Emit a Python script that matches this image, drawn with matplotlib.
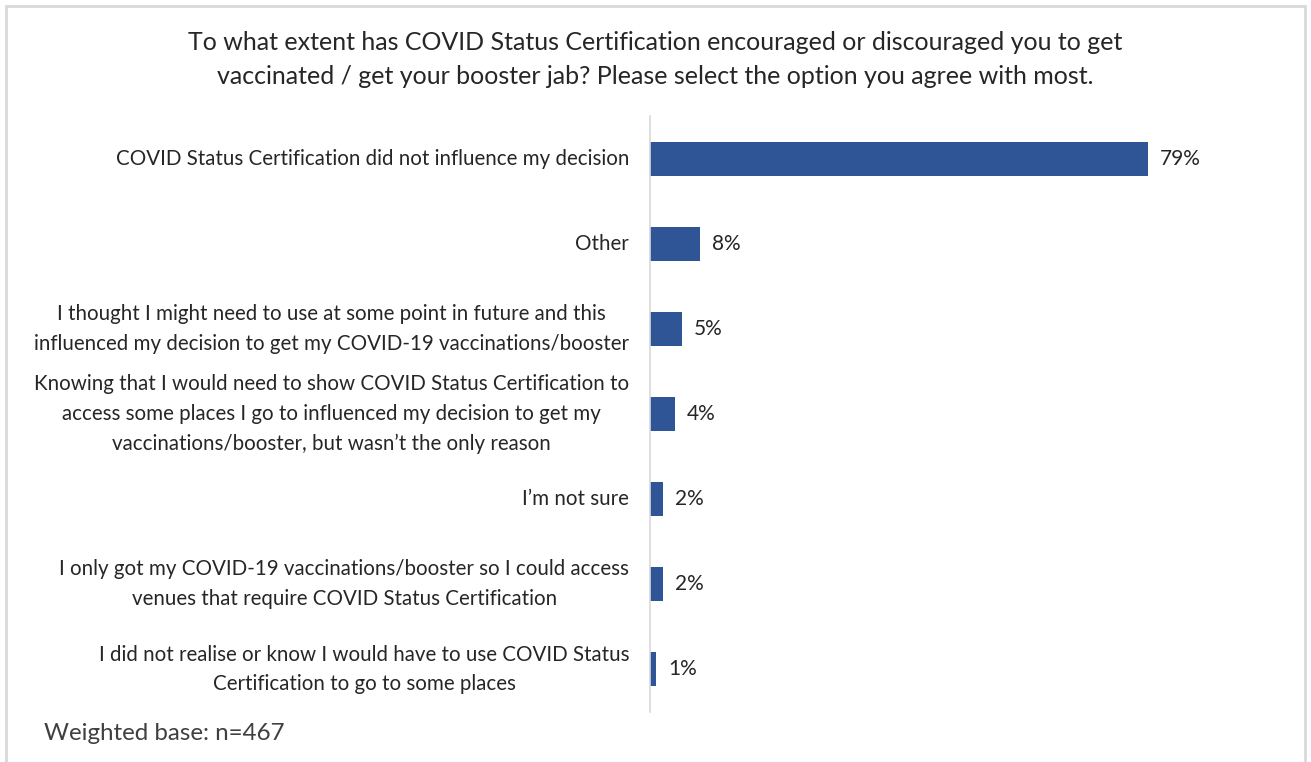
import matplotlib
matplotlib.use("Agg")
import matplotlib.pyplot as plt
from matplotlib.patches import Rectangle

plt.rcParams['font.family'] = ['Lato', 'DejaVu Sans']

categories = [
    "COVID Status Certification did not influence my decision",
    "Other",
    "I thought I might need to use at some point in future and this\ninfluenced my decision to get my COVID-19 vaccinations/booster",
    "Knowing that I would need to show COVID Status Certification to\naccess some places I go to influenced my decision to get my\nvaccinations/booster, but wasn\u2019t the only reason",
    "I\u2019m not sure",
    "I only got my COVID-19 vaccinations/booster so I could access\nvenues that require COVID Status Certification",
    "I did not realise or know I would have to use COVID Status\nCertification to go to some places",
]
values = [79, 8, 5, 4, 2, 2, 1]
value_labels = ["79%", "8%", "5%", "4%", "2%", "2%", "1%"]

title = ("To what extent has COVID Status Certification encouraged or discouraged you to get\n"
         "vaccinated / get your booster jab? Please select the option you agree with most.")
footnote = "Weighted base: n=467"

BAR = "#2F5597"
TEXT = "#262626"

fig = plt.figure(figsize=(13.11, 7.62), dpi=100)
fig.patch.set_facecolor("white")

# light frame around the chart area
fig.add_artist(Rectangle((6 / 1311, -0.05), 1299 / 1311, 1.05 - 6 / 762,
                         transform=fig.transFigure, fill=False,
                         edgecolor="#D9D9D9", linewidth=2))

ax = fig.add_axes([650 / 1311, 1 - 712 / 762, 567 / 1311, (712 - 116) / 762])
y = list(range(len(categories)))
ax.barh(y, values, height=0.4, color=BAR)
ax.set_ylim(len(categories) - 0.5, -0.5)
ax.set_xlim(0, 90)

for yi, v, lab in zip(y, values, value_labels):
    ax.text(v + 1.9, yi, lab, va="center", ha="left", fontsize=15, color=TEXT)

for yi, cat in zip(y, categories):
    ax.text(-3.3, yi, cat, va="center", ha="right", fontsize=14.8, color=TEXT,
            multialignment="center", linespacing=1.6)

for s in ["top", "right", "bottom"]:
    ax.spines[s].set_visible(False)
ax.spines["left"].set_color("#D9D9D9")
ax.spines["left"].set_linewidth(1.2)
ax.set_xticks([])
ax.set_yticks([])

fig.text(655 / 1311, 1 - 59.5 / 762, title, ha="center", va="center",
         fontsize=18, color=TEXT, linespacing=1.6)
fig.text(44 / 1311, 1 - 733 / 762, footnote, ha="left", va="center",
         fontsize=17.4, color="#404040")

fig.savefig("out.png", dpi=100, facecolor="white")
